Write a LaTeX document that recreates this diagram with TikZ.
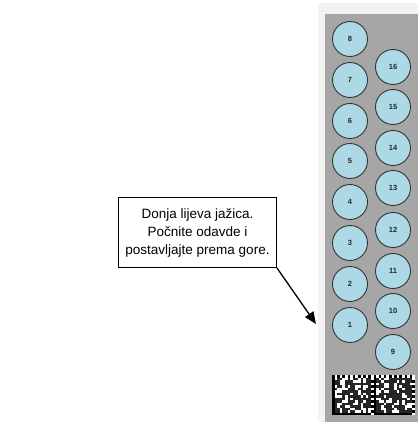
\documentclass[tikz,border=0pt]{standalone}
\usepackage{fontspec}
\setmainfont{Liberation Sans}
\usetikzlibrary{arrows.meta}
\definecolor{outerbg}{HTML}{F3F3F3}
\definecolor{panelgray}{HTML}{A6A6A6}
\definecolor{wellblue}{HTML}{ADD8E6}
\definecolor{welledge}{HTML}{333333}
\tikzset{
  well/.style={circle, draw=welledge, line width=0.9pt, fill=wellblue,
    minimum size=35pt, inner sep=0pt, font=\fontsize{7.5}{8}\selectfont\bfseries, text=black!85},
  callout/.style={draw=black, line width=1pt, fill=white, align=center,
    minimum width=158pt, minimum height=70pt, inner sep=2pt, font=\fontsize{13.5}{18}\selectfont},
  pointer/.style={line width=1.3pt, -{Triangle[length=12pt,width=10pt]}}
}
\begin{document}
\begin{tikzpicture}[x=1pt,y=-1pt]
\useasboundingbox (0,0) rectangle (418,422);
\fill[white] (0,0) rectangle (418,422);
% plate
\fill[outerbg] (318,3) rectangle (418,422);
\fill[panelgray] (325,14) rectangle (418,422);
% left column 1..8
\node[well] (w1) at (350,325) {1};
\node[well] (w2) at (350,284) {2};
\node[well] (w3) at (350,243) {3};
\node[well] (w4) at (350,202) {4};
\node[well] (w5) at (350,161) {5};
\node[well] (w6) at (350,121) {6};
\node[well] (w7) at (350,80) {7};
\node[well] (w8) at (350,39) {8};
% right column 9..16
\node[well] (w9) at (393,352) {9};
\node[well] (w10) at (393,311) {10};
\node[well] (w11) at (393,271) {11};
\node[well] (w12) at (393,230) {12};
\node[well] (w13) at (393,188) {13};
\node[well] (w14) at (393,148) {14};
\node[well] (w15) at (393,107) {15};
\node[well] (w16) at (393,67) {16};
% barcode (two data-matrix style squares)
\fill[white] (332,375) rectangle (415,415);
\pgfmathsetseed{5}
\foreach \i in {0,...,31} {
  \foreach \j in {0,...,15} {
    \pgfmathrandominteger{\r}{0}{2}
    \ifnum\r>0 \fill[black!85] (332+\i*2.594,375+\j*2.5) rectangle ++(2.594,2.5); \fi
  }
}
\foreach \s in {0,1} {
  \fill[black] (332+\s*41.5,375) rectangle ++(2.594,40);
  \fill[black] (332+\s*41.5,412.5) rectangle ++(41.5,2.5);
  \foreach \k in {0,2,...,14} {
    \fill[black] (332+\s*41.5+\k*2.594,375) rectangle ++(2.594,2.5);
    \fill[white] (332+\s*41.5+\k*2.594+2.594,375) rectangle ++(2.594,2.5);
    \fill[black] (332+\s*41.5+38.906,375+\k*2.5) rectangle ++(2.594,2.5);
    \fill[white] (332+\s*41.5+38.906,377.5+\k*2.5) rectangle ++(2.594,2.5);
  }
}
% callout
\node[callout, anchor=north east] (note) at (277,197)
  {Donja lijeva jažica.\\ Počnite odavde i\\ postavljajte prema gore.};
\coordinate (tip) at (316,324);
\draw[pointer] (note.south east) -- (tip);
\end{tikzpicture}
\end{document}
